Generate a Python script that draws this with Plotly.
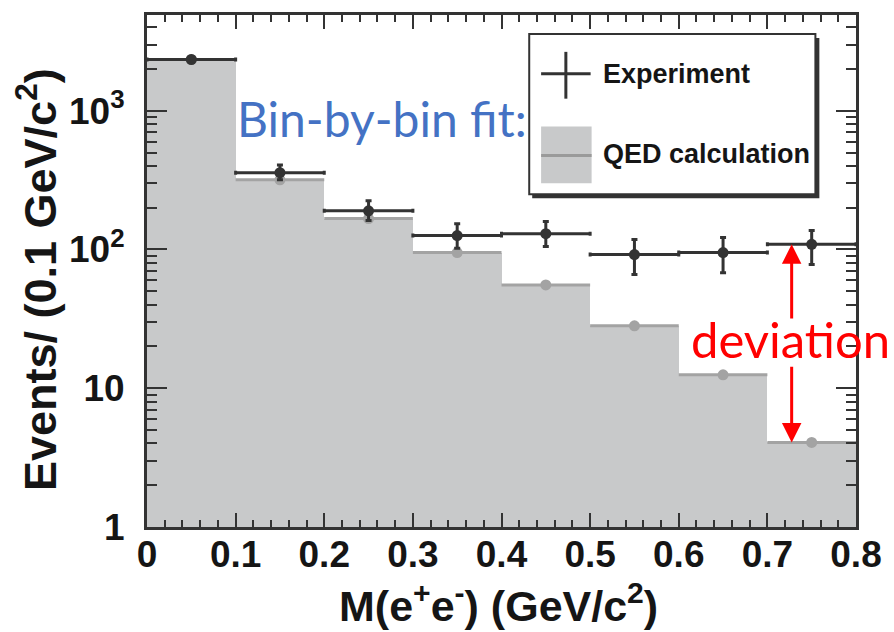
import plotly.graph_objects as go
import numpy as np

# ---- data ----
bin_edges = [0.0, 0.1, 0.2, 0.3, 0.4, 0.5, 0.6, 0.7, 0.8]
qed_values = [2340, 318, 167, 95, 55.5, 28.2, 12.5, 4.07]
exp_values = [2340, 358, 190, 126, 130, 92, 95, 109]
exp_err_up = [50, 48, 35, 27, 29, 26, 27, 28]
exp_err_dn = [50, 40, 28, 24, 25, 26, 27, 31]
y_tick_vals = [1, 10, 100, 1000]
y_tick_text = ["1", "10", "10<sup>2</sup>", "10<sup>3</sup>"]
x_tick_vals = [0, 0.1, 0.2, 0.3, 0.4, 0.5, 0.6, 0.7, 0.8]
x_tick_text = ["0", "0.1", "0.2", "0.3", "0.4", "0.5", "0.6", "0.7", "0.8"]

centers = [(a + b) / 2 for a, b in zip(bin_edges[:-1], bin_edges[1:])]
half_w = [(b - a) / 2 for a, b in zip(bin_edges[:-1], bin_edges[1:])]
widths = [b - a for a, b in zip(bin_edges[:-1], bin_edges[1:])]

W, H = 894, 632
L, R, T, B = 147, 31, 13, 105
PW, PH = W - L - R, H - T - B

def px(X):
    return (X - L) / PW

def py(Y):
    return (H - B - Y) / PH

DARK = "#333333"
FILL = "#c8c9ca"
QEDLINE = "#a3a3a3"

fig = go.Figure()

# QED histogram fill
fig.add_trace(go.Bar(x=centers, y=qed_values, width=widths,
                     marker=dict(color=FILL, line=dict(width=0)),
                     showlegend=False, hoverinfo="skip"))
# QED top segments + markers
fig.add_trace(go.Scatter(x=centers, y=qed_values, mode="markers",
                         marker=dict(color=QEDLINE, size=11),
                         error_x=dict(type="data", array=half_w, symmetric=True,
                                      color=QEDLINE, thickness=3, width=0),
                         showlegend=False, hoverinfo="skip"))
# Experiment
fig.add_trace(go.Scatter(x=centers, y=exp_values, mode="markers",
                         marker=dict(color=DARK, size=11),
                         error_x=dict(type="data", array=half_w, symmetric=True,
                                      color=DARK, thickness=3, width=2),
                         error_y=dict(type="data", array=exp_err_up, arrayminus=exp_err_dn,
                                      symmetric=False, color=DARK, thickness=3, width=3),
                         showlegend=False, hoverinfo="skip"))

minor_y = [m * 10 ** d for d in range(0, 4) for m in range(2, 10) if m * 10 ** d < 5000]

fig.update_xaxes(range=[0, 0.8], tickmode="array", tickvals=x_tick_vals, ticktext=x_tick_text,
                 ticks="inside", ticklen=14, tickwidth=2, tickcolor=DARK,
                 minor=dict(ticks="inside", ticklen=7, tickwidth=2, tickcolor=DARK, dtick=0.02, showgrid=False),
                 showline=True, linecolor=DARK, linewidth=3, mirror="allticks",
                 showgrid=False, zeroline=False, ticklabelstandoff=-7,
                 tickfont=dict(family="Liberation Sans, Arial", size=37, color="#151515", weight="bold"))
fig.update_yaxes(type="log", range=[0, 3.69], tickmode="array", tickvals=y_tick_vals, ticktext=y_tick_text,
                 ticks="inside", ticklen=20, tickwidth=2, tickcolor=DARK,
                 minor=dict(ticks="inside", ticklen=10, tickwidth=2, tickcolor=DARK,
                            tickmode="array", tickvals=minor_y, showgrid=False),
                 showline=True, linecolor=DARK, linewidth=3, mirror="allticks",
                 showgrid=False, zeroline=False, ticklabelstandoff=12,
                 tickfont=dict(family="Liberation Sans, Arial", size=37, color="#151515", weight="bold"))

annotations = []
# axis titles
annotations.append(dict(text="M(e<sup>+</sup>e<sup>-</sup>) (GeV/c<sup>2</sup>)", xref="paper", yref="paper",
                        x=px(502), y=py(603), xanchor="center", yanchor="middle", showarrow=False,
                        font=dict(family="Liberation Sans, Arial", size=43, color="#151515", weight="bold")))
annotations.append(dict(text="Events/ (0.1 GeV/c<sup>2</sup>)", xref="paper", yref="paper",
                        x=px(36), y=py(279), xanchor="center", yanchor="middle", showarrow=False, textangle=-90,
                        font=dict(family="Liberation Sans, Arial", size=45, color="#151515", weight="bold")))
# overlay texts
annotations.append(dict(text="Bin-by-bin fit:", xref="paper", yref="paper", x=px(236), y=py(117),
                        xanchor="left", yanchor="middle", showarrow=False,
                        font=dict(family="Lato", size=48, color="#4472C4")))
annotations.append(dict(text="deviation", xref="paper", yref="paper", x=px(694), y=py(338),
                        xanchor="left", yanchor="middle", showarrow=False,
                        font=dict(family="Lato", size=49, color="#FF0000")))
# arrows (data-anchored tips)
arrow_x = 0.7274
annotations.append(dict(text=" ", x=arrow_x, y=np.log10(exp_values[7]), ax=arrow_x, ay=np.log10(exp_values[7]) - 0.55,
                        xref="x", yref="y", axref="x", ayref="y", showarrow=True,
                        arrowhead=2, arrowsize=1.3, arrowwidth=3, arrowcolor="#FF0000", font=dict(size=1)))
annotations.append(dict(text=" ", x=arrow_x, y=np.log10(qed_values[7]), ax=arrow_x, ay=np.log10(qed_values[7]) + 0.56,
                        xref="x", yref="y", axref="x", ayref="y", showarrow=True,
                        arrowhead=2, arrowsize=1.3, arrowwidth=3, arrowcolor="#FF0000", font=dict(size=1)))
# legend texts
annotations.append(dict(text="Experiment", xref="paper", yref="paper", x=px(605), y=py(72),
                        xanchor="left", yanchor="middle", showarrow=False,
                        font=dict(family="Liberation Sans, Arial", size=27, color="#151515", weight="bold")))
annotations.append(dict(text="QED calculation", xref="paper", yref="paper", x=px(605), y=py(153),
                        xanchor="left", yanchor="middle", showarrow=False,
                        font=dict(family="Liberation Sans, Arial", size=27, color="#151515", weight="bold")))

shapes = [
    # legend shadow and box
    dict(type="rect", xref="paper", yref="paper", x0=px(536), x1=px(826), y0=py(36), y1=py(197),
         fillcolor=DARK, line=dict(width=0)),
    dict(type="rect", xref="paper", yref="paper", x0=px(533), x1=px(822), y0=py(32), y1=py(193),
         fillcolor="white", line=dict(color=DARK, width=2)),
    # experiment symbol
    dict(type="line", xref="paper", yref="paper", x0=px(545), x1=px(595), y0=py(72), y1=py(72),
         line=dict(color=DARK, width=3)),
    dict(type="line", xref="paper", yref="paper", x0=px(570), x1=px(570), y0=py(50), y1=py(97),
         line=dict(color=DARK, width=3)),
    # QED symbol
    dict(type="rect", xref="paper", yref="paper", x0=px(545), x1=px(596), y0=py(125), y1=py(182),
         fillcolor=FILL, line=dict(width=0)),
    dict(type="line", xref="paper", yref="paper", x0=px(545), x1=px(596), y0=py(154), y1=py(154),
         line=dict(color="#9a9a9a", width=3)),
]

fig.update_layout(width=W, height=H, margin=dict(l=L, r=R, t=T, b=B),
                  plot_bgcolor="white", paper_bgcolor="white", bargap=0,
                  annotations=annotations, shapes=shapes, showlegend=False)

fig.write_html("out.html")
